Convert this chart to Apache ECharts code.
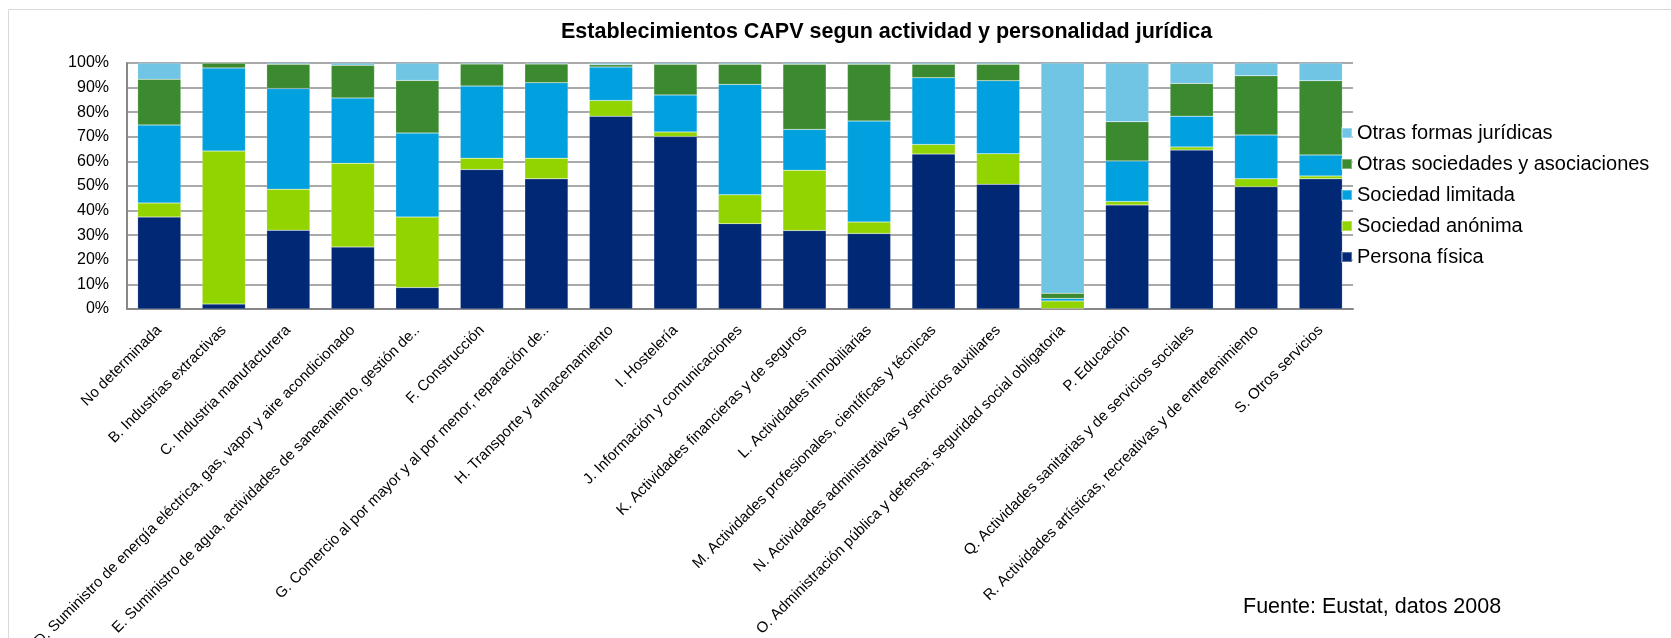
<!DOCTYPE html>
<html>
<head>
<meta charset="utf-8">
<title>Establecimientos CAPV</title>
<script src="https://cdn.jsdelivr.net/npm/echarts@6/dist/echarts.min.js"></script>
<style>
  html, body { margin: 0; padding: 0; background: #fff; }
  #chart { width: 1671px; height: 638px; }
</style>
</head>
<body>
<div id="chart"></div>
<script>
const categories = [
  'No determinada',
  'B. Industrias extractivas',
  'C. Industria manufacturera',
  'D. Suministro de energía eléctrica, gas, vapor y aire acondicionado',
  'E. Suministro de agua, actividades de saneamiento, gestión de..',
  'F. Construcción',
  'G. Comercio al por mayor y al por menor, reparación de..',
  'H. Transporte y almacenamiento',
  'I. Hostelería',
  'J. Información y comunicaciones',
  'K. Actividades financieras y de seguros',
  'L. Actividades inmobiliarias',
  'M. Actividades profesionales, científicas y técnicas',
  'N. Actividades administrativas y servicios auxiliares',
  'O. Administración pública y defensa; seguridad social obligatoria',
  'P. Educación',
  'Q. Actividades sanitarias y de servicios sociales',
  'R. Actividades artísticas, recreativas y de entretenimiento',
  'S. Otros servicios'
];

// porcentajes por categoria (de abajo arriba en la pila)
const personaFisica = [37.4, 2.0, 32.0, 25.2, 8.7, 56.7, 52.9, 78.4, 70.1, 34.7, 31.9, 30.7, 63.0, 50.7, 0.2, 42.3, 64.6, 49.7, 52.9];
const sociedadAnonima = [5.7, 62.2, 16.7, 34.0, 28.7, 4.6, 8.4, 6.4, 1.9, 11.7, 24.5, 4.7, 3.9, 12.4, 3.1, 1.4, 1.3, 3.2, 1.2];
const sociedadLimitada = [31.7, 33.8, 40.9, 26.6, 34.1, 29.3, 30.7, 13.6, 15.0, 44.9, 16.6, 41.0, 27.1, 29.7, 1.0, 16.5, 12.5, 17.8, 8.5];
const otrasSociedades = [18.6, 2.0, 9.9, 13.3, 21.4, 9.0, 7.6, 0.9, 12.5, 8.2, 26.5, 23.1, 5.5, 6.7, 2.1, 15.9, 13.3, 24.1, 30.2];
const otrasFormas = [6.6, 0.0, 0.5, 0.9, 7.1, 0.4, 0.4, 0.7, 0.5, 0.5, 0.5, 0.5, 0.5, 0.5, 93.6, 23.9, 8.3, 5.2, 7.2];

const yTicks = [0, 100, 10]; // min, max, paso

const font = '"Liberation Sans", Arial, sans-serif';

const mkSeries = (name, data, color) => ({
  name,
  type: 'bar',
  stack: 'total',
  data,
  barCategoryGap: '33%',
  itemStyle: { color, borderColor: 'rgba(255,255,255,0.35)', borderWidth: 0.5 },
  emphasis: { disabled: true },
});

const chart = echarts.init(document.getElementById('chart'), null, { renderer: 'canvas' });

chart.setOption({
  animation: false,
  backgroundColor: '#fff',
  textStyle: { fontFamily: font },
  title: {
    text: 'Establecimientos CAPV segun actividad y personalidad jurídica',
    left: 556,
    top: 16,
    textStyle: { fontFamily: font, fontSize: 21.5, fontWeight: 'bold', color: '#000' },
  },
  legend: {
    orient: 'vertical',
    left: 1336,
    top: 118,
    itemWidth: 10,
    itemHeight: 10,
    itemGap: 11,
    icon: 'rect',
    data: ['Otras formas jurídicas', 'Otras sociedades y asociaciones', 'Sociedad limitada', 'Sociedad anónima', 'Persona física'],
    textStyle: { fontFamily: font, fontSize: 20, color: '#000' },
  },
  grid: {
    left: 127,
    right: 318,
    top: 63,
    bottom: 329,
    containLabel: false,
    outerBoundsMode: 'none',
  },
  xAxis: {
    type: 'category',
    data: categories,
    axisTick: { show: false },
    axisLine: { show: true, lineStyle: { color: '#878787', width: 2 } },
    axisLabel: {
      interval: 0,
      rotate: 45,
      margin: 19,
      hideOverlap: false,
      fontFamily: font,
      fontSize: 15,
      color: '#000',
    },
  },
  yAxis: {
    type: 'value',
    min: yTicks[0],
    max: yTicks[1],
    interval: yTicks[2],
    axisLine: { show: true, lineStyle: { color: '#878787', width: 2 } },
    axisTick: { show: false },
    axisLabel: {
      formatter: '{value}%',
      margin: 18,
      fontFamily: font,
      fontSize: 16,
      color: '#000',
    },
    splitLine: { lineStyle: { color: '#8c8c8c', width: 1.5 } },
  },
  graphic: [
    {
      type: 'rect',
      shape: { x: 8.5, y: 9.5, width: 1700, height: 700 },
      style: { fill: 'none', stroke: '#d9d9d9', lineWidth: 1 },
      silent: true,
    },
    {
      type: 'text',
      left: 1243,
      top: 596,
      style: { text: 'Fuente: Eustat, datos 2008', fontFamily: font, fontSize: 21.5, fill: '#000' },
      silent: true,
    },
  ],
  series: [
    mkSeries('Persona física', personaFisica, '#002874'),
    mkSeries('Sociedad anónima', sociedadAnonima, '#92D400'),
    mkSeries('Sociedad limitada', sociedadLimitada, '#00A1DE'),
    mkSeries('Otras sociedades y asociaciones', otrasSociedades, '#3C8A2F'),
    mkSeries('Otras formas jurídicas', otrasFormas, '#70C4E4'),
  ],
});

window.addEventListener('resize', () => chart.resize());
</script>
</body>
</html>
